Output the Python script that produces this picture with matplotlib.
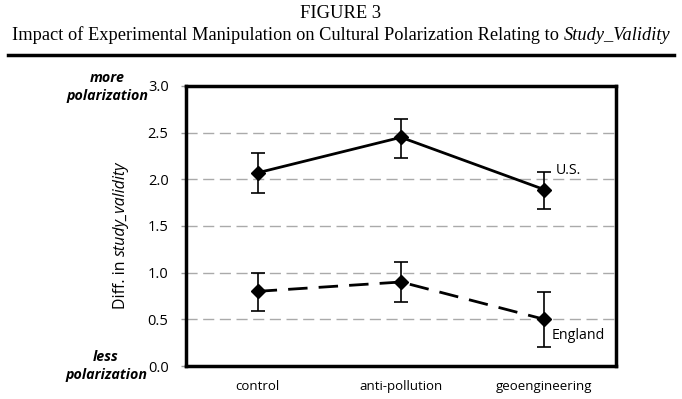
import matplotlib
matplotlib.use("Agg")
import matplotlib.pyplot as plt
import numpy as np

categories = ["control", "anti-pollution", "geoengineering"]
us_values = [2.07, 2.45, 1.89]
us_lower = [1.85, 2.23, 1.68]
us_upper = [2.28, 2.65, 2.08]
eng_values = [0.80, 0.90, 0.50]
eng_lower = [0.59, 0.69, 0.20]
eng_upper = [1.00, 1.11, 0.79]
yticks = [0.0, 0.5, 1.0, 1.5, 2.0, 2.5, 3.0]

sans = ["Open Sans", "DejaVu Sans"]
serif = ["Liberation Serif", "DejaVu Serif"]

fig = plt.figure(figsize=(6.82, 3.99), dpi=100)
ax = fig.add_axes([0.2727, 0.0827, 0.6305, 0.7018])

x = np.arange(len(categories)) + 0.5
us_err = [np.array(us_values) - np.array(us_lower), np.array(us_upper) - np.array(us_values)]
eng_err = [np.array(eng_values) - np.array(eng_lower), np.array(eng_upper) - np.array(eng_values)]

ax.errorbar(x, us_values, yerr=us_err, color="black", lw=2, marker="D", ms=7,
            capsize=5, elinewidth=1.2, capthick=1.2, zorder=3)
l = ax.errorbar(x, eng_values, yerr=eng_err, color="black", lw=2, marker="D", ms=7,
                capsize=5, elinewidth=1.2, capthick=1.2, zorder=3)
l[0].set_linestyle((0, (7, 4)))

ax.set_xlim(0, 3)
ax.set_ylim(0, 3)
ax.set_yticks(yticks)
ax.set_yticklabels([f"{v:.1f}" for v in yticks], fontfamily=sans, fontsize=10.5)
ax.set_xticks(x)
ax.set_xticklabels(categories, fontfamily=sans, fontsize=9.5)
ax.tick_params(axis="x", length=0, pad=10)
ax.tick_params(axis="y", length=3.5, color="#999999", width=1, pad=9)
for yv in yticks[1:-1]:
    ax.axhline(yv, color="#aaaaaa", lw=1, ls=(0, (8, 4)), zorder=1)
for s in ax.spines.values():
    s.set_linewidth(2.5)
    s.set_color("black")

ax.text(2.58, us_values[2] + 0.20, "U.S.", fontfamily=sans, fontsize=10.2, ha="left", va="center")
ax.text(2.55, eng_values[2] - 0.17, "England", fontfamily=sans, fontsize=10.2, ha="left", va="center")

# polarization labels
fig.text(107/682, 1 - 87/399, "more\npolarization", fontfamily=sans, fontsize=10.3,
         fontweight="bold", fontstyle="italic", ha="center", va="center", linespacing=1.3)
fig.text(106/682, 1 - 366/399, "less\npolarization", fontfamily=sans, fontsize=10.3,
         fontweight="bold", fontstyle="italic", ha="center", va="center", linespacing=1.3)

# y label with italic part
renderer = fig.canvas.get_renderer()
yl_x = 121/682
yl_center = 1 - 235/399
t1 = fig.text(0, 0, "Diff. in ", fontfamily=sans, fontsize=11.5, rotation=90)
t2 = fig.text(0, 0, "study_validity", fontfamily=sans, fontsize=11.5, rotation=90, fontstyle="italic")
h1 = t1.get_window_extent(renderer).height / fig.bbox.height
h2 = t2.get_window_extent(renderer).height / fig.bbox.height
start = yl_center - (h1 + h2) / 2
t1.set_position((yl_x, start)); t1.set_ha("center"); t1.set_va("bottom")
t2.set_position((yl_x, start + h1)); t2.set_ha("center"); t2.set_va("bottom")

# titles
fig.text(0.5, 1 - 13/399, "FIGURE 3", fontfamily=serif, fontsize=13.3, ha="center", va="center")
s1 = fig.text(0, 1 - 35/399, "Impact of Experimental Manipulation on Cultural Polarization Relating to ",
              fontfamily=serif, fontsize=13.2, va="center")
s2 = fig.text(0, 1 - 35/399, "Study_Validity", fontfamily=serif, fontsize=13.2, va="center",
              fontstyle="italic")
w1 = s1.get_window_extent(renderer).width / fig.bbox.width
w2 = s2.get_window_extent(renderer).width / fig.bbox.width
left = 0.5 - (w1 + w2) / 2
s1.set_x(left)
s2.set_x(left + w1)

fig.add_artist(plt.Line2D([8/682, 674/682], [1 - 55/399, 1 - 55/399], color="black", lw=2.5))

fig.savefig("out.png", dpi=100)
